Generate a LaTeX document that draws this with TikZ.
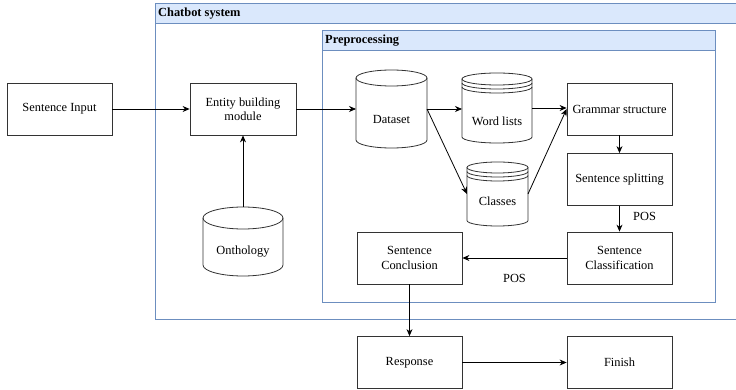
\documentclass[tikz,border=0pt]{standalone}
\usepackage{fontspec}
\setmainfont{Liberation Serif}
\usetikzlibrary{arrows.meta,positioning}

\definecolor{laneblue}{HTML}{6C8EBF}
\definecolor{lanefill}{HTML}{DAE8FC}
\newcommand\diagfont{\rmfamily\fontsize{12.4}{14.2}\selectfont}

% outline of a drum: node, x radius, y radius
\newcommand\drum[3]{%
  \draw[drumline] ([yshift=-#3]#1.north west) -- ([yshift=#3]#1.south west)
    arc[start angle=180, end angle=360, x radius=#2, y radius=#3]
    -- ([yshift=-#3]#1.north east);
  \draw[drumline] ([yshift=-#3]#1.north) ellipse[x radius=#2, y radius=#3];
}
% extra rings under the lid
\newcommand\drumrings[3]{%
  \foreach \d in {4,8}
    \draw[drumline] ([yshift=-#3-\d*1pt]#1.north west)
      arc[start angle=180, end angle=360, x radius=#2, y radius=#3];
}

\tikzset{
  box/.style={draw=black!80, line width=0.8pt, minimum width=105pt, minimum height=52pt, align=center},
  drumbox/.style 2 args={minimum width=#1, minimum height=#2, inner sep=0pt, outer sep=0pt},
  drumline/.style={draw=black!80, line width=0.8pt},
  lane/.style={draw=laneblue, line width=1pt},
  lanehead/.style={draw=laneblue, fill=lanefill, line width=1pt},
  lanetitle/.style={anchor=west, inner sep=2pt, font=\diagfont\bfseries},
  arr/.style={-{Stealth[length=7pt,width=6pt]}, line width=0.8pt}
}

\begin{document}
\begin{tikzpicture}[x=1pt, y=-1pt, font=\diagfont]
    \useasboundingbox (0,0) rectangle (736,390);

    % Lanes
    \draw[lane] (155.5,4) rectangle (740,319);
    \draw[lanehead] (155.5,4) rectangle (740,24);
    \node[lanetitle] (chattitle) at (156,14) {Chatbot system};
    \draw[lane, fill=white] (322,31) rectangle (715,302);
    \draw[lanehead] (322,31) rectangle (715,51);
    \node[lanetitle] (pretitle) at (323,41) {Preprocessing};

    % Vertices
    \node[box] (input) at (59.5,109) {Sentence Input};
    \node[box, minimum width=106pt] (ent) at (243,109) {Entity building\\module};
    \node[box] (gram) at (619.5,109) {Grammar structure};
    \node[box] (split) at (619.5,179.5) {Sentence splitting};
    \node[box] (class) at (619.5,258) {Sentence\\Classification};
    \node[box] (conc) at (409.5,258) {Sentence\\Conclusion};
    \node[box] (resp) at (409.5,362.5) {Response};
    \node[box] (fin) at (619.5,362.5) {Finish};

    \node[drumbox={71pt}{78pt}, label={[yshift=-11pt]center:Dataset}] (data) at (391.5,109) {};
    \node[drumbox={70pt}{70pt}, label={[yshift=-13pt]center:Word lists}] (wl) at (497,108) {};
    \node[drumbox={61pt}{64pt}, label={[yshift=-7pt]center:Classes}] (cls) at (497.5,194) {};
    \node[drumbox={80pt}{69pt}, label={[yshift=-10.5pt]center:Onthology}] (onto) at (243,241.5) {};

    \drum{data}{35.5pt}{8pt}
    \drum{wl}{35pt}{6pt}
    \drumrings{wl}{35pt}{6pt}
    \drum{cls}{30.5pt}{5.5pt}
    \drumrings{cls}{30.5pt}{5.5pt}
    \drum{onto}{40pt}{11pt}

    % Edges
    \draw[arr] (input) -- (ent);
    \draw[arr] (onto) -- (ent);
    \draw[arr] (ent) -- (data);
    \draw[arr] (data.east) -- (data.east -| wl.west);
    \draw[arr] (data.east) -- (cls.west);
    \draw[arr] (wl.east) -- (wl.east -| gram.west);
    \draw[arr] (cls.east) -- (gram.west);
    \draw[arr] (gram) -- (split);
    \draw[arr] (split) -- node[right=10pt, pos=0.4] (pos1) {POS} (class);
    \draw[arr] (class) -- node[below=13pt] (pos2) {POS} (conc);
    \draw[arr] (conc) -- (resp);
    \draw[arr] (resp) -- (fin);
\end{tikzpicture}
\end{document}
